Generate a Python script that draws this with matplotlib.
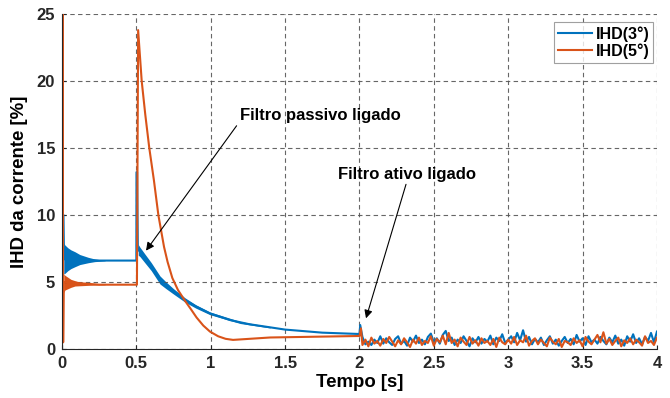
import numpy as np
import matplotlib
matplotlib.use("Agg")
import matplotlib.pyplot as plt

plt.rcParams['font.family'] = ['Liberation Sans', 'DejaVu Sans']
plt.rcParams['font.weight'] = 'bold'

# main curves (t in s, IHD in %)
t3 = [0.0, 0.002, 0.006, 0.010, 0.014, 0.25, 0.50, 0.501, 0.505, 0.510, 0.513, 0.524, 0.56,
      0.60, 0.659, 0.70, 0.75, 0.827, 0.90, 0.995, 1.13, 1.26, 1.40, 1.50, 1.75, 1.99, 2.0, 2.005]
ihd3 = [0.0, 30.0, 10.0, 10.0, 6.7, 6.6, 6.6, 13.2, 13.2, 7.6, 7.4, 7.26, 6.72,
        6.15, 5.15, 4.75, 4.3, 3.66, 3.18, 2.66, 2.16, 1.85, 1.62, 1.45, 1.22, 1.12, 1.12, 1.79]

t5 = [0.0, 0.003, 0.008, 0.012, 0.25, 0.504, 0.512, 0.536, 0.56, 0.587, 0.618, 0.648,
      0.686, 0.71, 0.742, 0.78, 0.827, 0.865, 0.905, 0.95, 0.995, 1.05, 1.10, 1.15, 1.25,
      1.40, 1.50, 1.75, 1.99, 2.0, 2.01]
ihd5 = [0.0, 30.0, 0.5, 5.0, 4.8, 4.8, 23.8, 20.0, 17.5, 15.0, 12.6, 10.0,
        7.63, 6.5, 5.3, 4.4, 3.6, 3.0, 2.35, 1.75, 1.3, 0.95, 0.76, 0.68, 0.75,
        0.86, 0.88, 0.93, 0.97, 0.97, 1.54]

# oscillation envelopes
t_osc = [0.012, 0.02, 0.04, 0.06, 0.087, 0.12, 0.177, 0.22, 0.29]
ihd3_up = [7.9, 7.76, 7.55, 7.4, 7.26, 7.05, 6.84, 6.72, 6.62]
ihd3_lo = [5.6, 5.65, 5.85, 6.0, 6.14, 6.3, 6.44, 6.52, 6.58]
ihd5_up = [5.6, 5.5, 5.35, 5.2, 5.1, 5.0, 4.9, 4.85, 4.82]
ihd5_lo = [4.2, 4.4, 4.5, 4.6, 4.7, 4.72, 4.75, 4.77, 4.79]

t_pf = [0.513, 0.524, 0.56, 0.60, 0.659, 0.70, 0.75, 0.827, 0.90, 0.995, 1.20, 1.40]
ihd3_pf_up = [7.8, 7.6, 7.05, 6.45, 5.45, 5.0, 4.5, 3.82, 3.3, 2.76, 2.05, 1.67]
ihd3_pf_lo = [7.0, 6.9, 6.4, 5.85, 4.85, 4.5, 4.1, 3.5, 3.05, 2.56, 1.9, 1.57]

# after the active filter (samples every 0.02 s from 2.02 s to 4.00 s)
t_af = np.linspace(2.02, 4.0, 100)
ihd3_af = [0.9, 0.35, 0.55, 0.3, 0.7, 0.45, 0.95, 0.4, 0.8, 0.5,
           0.3, 0.75, 0.95, 0.4, 0.6, 0.25, 0.85, 0.55, 1.0, 0.45,
           0.7, 0.35, 0.9, 1.15, 0.5, 0.8, 0.4, 1.05, 1.35, 0.6,
           0.85, 0.3, 0.7, 0.45, 0.95, 0.6, 0.2, 0.8, 0.5, 0.9,
           0.4, 0.75, 0.55, 1.0, 0.35, 0.85, 0.6, 1.1, 0.45, 0.7,
           0.95, 0.5, 1.2, 0.65, 1.4, 0.55, 0.9, 0.35, 0.75, 0.5,
           0.85, 0.3, 0.65, 0.95, 0.4, 0.7, 0.25, 0.6, 0.9, 0.45,
           0.75, 0.35, 1.05, 0.55, 0.8, 0.3, 0.95, 0.5, 0.7, 0.4,
           0.9, 0.6, 0.35, 0.85, 0.5, 1.0, 0.4, 0.7, 0.25, 0.95,
           0.55, 1.1, 0.45, 0.8, 0.35, 0.9, 0.6, 1.2, 0.5, 1.3]
ihd5_af = [0.3, 0.7, 0.2, 0.85, 0.4, 0.6, 0.25, 0.75, 0.45, 0.9,
           0.55, 0.2, 0.65, 0.35, 0.8, 0.5, 0.15, 0.7, 0.4, 0.85,
           0.3, 0.6, 0.45, 0.95, 0.25, 0.75, 0.5, 1.0, 0.35, 1.2,
           0.45, 0.7, 0.2, 0.85, 0.55, 0.3, 0.9, 0.4, 0.65, 0.25,
           0.8, 0.45, 0.6, 0.3, 0.75, 0.15, 0.85, 0.5, 0.35, 0.7,
           0.4, 0.9, 0.3, 0.65, 0.5, 1.0, 0.25, 0.6, 0.8, 0.35,
           0.7, 0.45, 0.2, 0.85, 0.55, 0.35, 0.75, 0.15, 0.6, 0.5,
           0.3, 0.8, 0.45, 0.65, 0.2, 0.9, 0.55, 0.35, 0.7, 1.05,
           0.5, 1.25, 0.4, 0.75, 0.3, 0.6, 0.85, 0.2, 0.65, 0.45,
           0.8, 0.35, 0.7, 0.5, 0.25, 0.95, 0.45, 0.6, 0.3, 0.85]

x_ticks = [0, 0.5, 1, 1.5, 2, 2.5, 3, 3.5, 4]
x_labels = ['0', '0.5', '1', '1.5', '2', '2.5', '3', '3.5', '4']
y_ticks = [0, 5, 10, 15, 20, 25]

blue = '#0072BD'
orange = '#D95319'

fig = plt.figure(figsize=(6.7, 3.98), dpi=100)
ax = fig.add_axes([0.0925, 0.1231, 0.888, 0.8417])

t3_all = np.concatenate([t3, t_af])
ihd3_all = np.concatenate([ihd3, ihd3_af])
t5_all = np.concatenate([t5, t_af])
ihd5_all = np.concatenate([ihd5, ihd5_af])

ax.fill_between(t_osc, ihd3_lo, ihd3_up, color=blue, lw=0)
ax.fill_between(t_pf, ihd3_pf_lo, ihd3_pf_up, color=blue, lw=0)
ax.plot(t3_all, ihd3_all, color=blue, lw=1.5, label='IHD(3°)')
ax.fill_between(t_osc, ihd5_lo, ihd5_up, color=orange, lw=0)
ax.plot(t5_all, ihd5_all, color=orange, lw=1.5, label='IHD(5°)')

ax.set_xlim(0, 4)
ax.set_ylim(0, 25)
ax.set_xticks(x_ticks)
ax.set_xticklabels(x_labels)
ax.set_yticks(y_ticks)
ax.tick_params(direction='in', length=3, labelsize=12, colors='#262626', pad=5)
for lab in ax.get_xticklabels() + ax.get_yticklabels():
    lab.set_fontweight('bold')

ax.grid(True, color='#555555', lw=0.8, linestyle=(0, (4, 3)), alpha=0.9)
ax.spines['top'].set_visible(False)
ax.spines['right'].set_visible(False)
ax.spines['left'].set_color('#262626')
ax.spines['bottom'].set_color('#262626')

ax.set_xlabel('Tempo [s]', fontsize=13.4, fontweight='bold', labelpad=2)
ax.set_ylabel('IHD da corrente [%]', fontsize=13.4, fontweight='bold', labelpad=6)

ax.text(1.197, 17.46, 'Filtro passivo ligado', fontsize=12, fontweight='bold', va='center')
ax.annotate('', xy=(0.565, 7.34), xytext=(1.174, 16.66),
            arrowprops=dict(arrowstyle='-|>', color='black', lw=0.8,
                            mutation_scale=12, shrinkA=0, shrinkB=0))
ax.text(1.857, 12.99, 'Filtro ativo ligado', fontsize=12, fontweight='bold', va='center')
ax.annotate('', xy=(2.044, 2.29), xytext=(2.313, 12.29),
            arrowprops=dict(arrowstyle='-|>', color='black', lw=0.8,
                            mutation_scale=12, shrinkA=0, shrinkB=0))

leg = ax.legend(loc='upper right', bbox_to_anchor=(0.994, 0.976),
                prop={'weight': 'bold', 'size': 11.5}, frameon=True, fancybox=False,
                handlelength=2.1, handletextpad=0.25, borderpad=0.25, labelspacing=0.1,
                borderaxespad=0)
leg.get_frame().set_edgecolor('#888888')
leg.get_frame().set_linewidth(0.8)

fig.savefig('out.png', dpi=100)
